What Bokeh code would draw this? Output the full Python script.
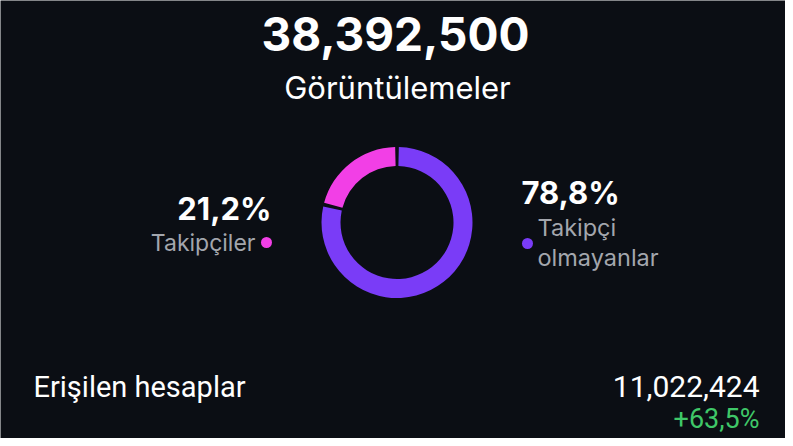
from bokeh.plotting import figure
from bokeh.models import Range1d, ColumnDataSource
from bokeh.core.properties import value
from bokeh.embed import file_html
from bokeh.resources import INLINE
import math

# ---- data ----
total_views = 38392500
views_title = "Görüntülemeler"
categories = ["Takipçiler", "Takipçi olmayanlar"]
shares = [21.2, 78.8]
reached_label = "Erişilen hesaplar"
reached_accounts = 11022424
reached_change = 63.5

# ---- styles ----
BG = "#0b0e14"
COLORS = ["#f23fe6", "#7a3cf7"]
GRAY = "#a3a6ad"
GREEN = "#3fc768"
FONT = "Inter"

W, H = 785, 438
p = figure(width=W, height=H, output_backend="svg", toolbar_location=None,
           x_range=Range1d(0, W), y_range=Range1d(0, H),
           background_fill_color=BG, border_fill_color=BG, min_border=0)
p.axis.visible = False
p.grid.visible = False
p.outline_line_color = None

def sy(screen_y):
    return H - screen_y

def tr(n):
    return f"{n:,}"

def pct(v):
    return f"{v:.1f}".replace(".", ",") + "%"

# title
p.text(x=[395], y=[sy(33)], text=[tr(total_views)], text_font=value(FONT),
       text_font_style="bold", text_font_size="46px", text_color="white",
       text_align="center", text_baseline="middle")
p.text(x=[397], y=[sy(87)], text=[views_title], text_font=value(FONT),
       text_font_size="31px", text_color="white",
       text_align="center", text_baseline="middle")

# donut
cx, cy = 396.5, sy(222)
gap = 2.8
starts, ends = [], []
acc = 0.0
for s in shares:
    a0 = 90 + acc * 3.6
    a1 = 90 + (acc + s) * 3.6
    starts.append(math.radians(a0 + gap / 2))
    ends.append(math.radians(a1 - gap / 2))
    acc += s
src = ColumnDataSource(dict(start=starts, end=ends, color=COLORS, cat=categories))
p.annular_wedge(x=cx, y=cy, inner_radius=56.5, outer_radius=75.5,
                start_angle="start", end_angle="end",
                direction="anticlock", fill_color="color", line_color=None,
                source=src)

# left label (followers)
p.text(x=[271], y=[sy(208)], text=[pct(shares[0])], text_font=value(FONT),
       text_font_style="bold", text_font_size="31px", text_color="white",
       text_align="right", text_baseline="middle")
p.text(x=[255], y=[sy(242)], text=[categories[0]], text_font=value(FONT),
       text_font_size="23px", text_color=GRAY,
       text_align="right", text_baseline="middle")
p.scatter(x=[266], y=[sy(242)], size=11, marker="circle",
          fill_color=COLORS[0], line_color=None)

# right label (non-followers)
words = categories[1].split(" ")
p.text(x=[521], y=[sy(192)], text=[pct(shares[1])], text_font=value(FONT),
       text_font_style="bold", text_font_size="31px", text_color="white",
       text_align="left", text_baseline="middle")
p.text(x=[537, 537], y=[sy(227), sy(257)], text=words, text_font=value(FONT),
       text_font_size="23.5px", text_color=GRAY,
       text_align="left", text_baseline="middle")
p.scatter(x=[527], y=[sy(243)], size=11, marker="circle",
          fill_color=COLORS[1], line_color=None)

# bottom row
p.text(x=[33], y=[sy(386)], text=[reached_label], text_font=value("Roboto"),
       text_font_size="29px", text_color="white",
       text_align="left", text_baseline="middle")
p.text(x=[759], y=[sy(386)], text=[tr(reached_accounts)], text_font=value("Roboto"),
       text_font_size="30px", text_color="white",
       text_align="right", text_baseline="middle")
p.text(x=[759], y=[sy(418)], text=["+" + pct(reached_change)], text_font=value("Roboto"),
       text_font_size="27px", text_color=GREEN,
       text_align="right", text_baseline="middle")

open("out.html", "w").write(file_html(p, INLINE))
